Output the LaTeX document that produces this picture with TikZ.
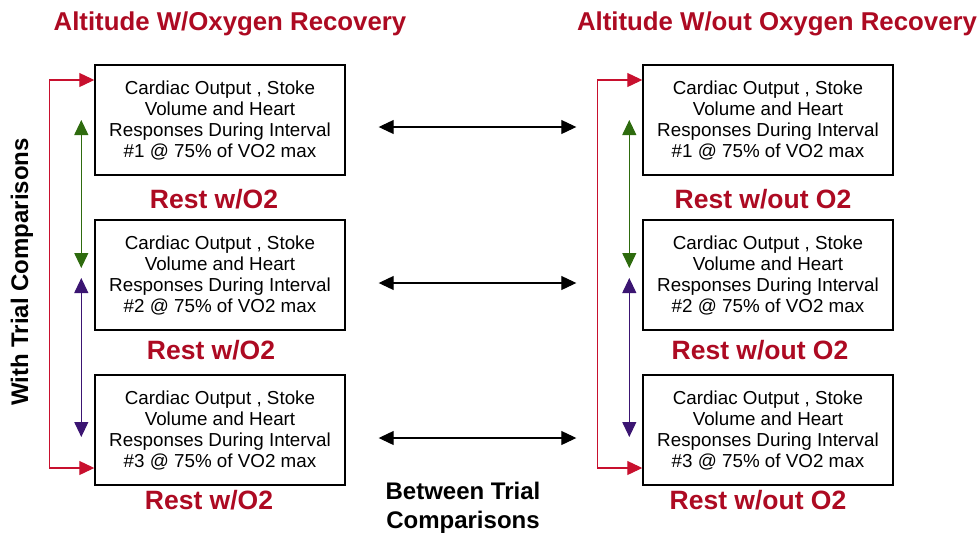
\documentclass[tikz,border=0pt]{standalone}
\usepackage{fontspec}
\setmainfont{Liberation Sans}
\usepackage{tikz}
\usetikzlibrary{arrows.meta, positioning, calc}
\usepackage{xcolor}
\definecolor{titlered}{HTML}{ad0a22}
\definecolor{bracketred}{HTML}{c8102e}
\definecolor{pairgreen}{HTML}{2e6b0e}
\definecolor{pairpurple}{HTML}{3b1572}
\tikzset{
  trialbox/.style={rectangle, draw=black, line width=1.4pt, fill=white,
                   minimum width=250pt, minimum height=110pt,
                   align=center, font=\fontsize{18.8}{21}\selectfont, inner sep=2pt},
  restlabel/.style={font=\fontsize{26.5}{30}\selectfont\bfseries, text=titlered},
  titlelabel/.style={font=\fontsize{25.8}{30}\selectfont\bfseries, text=titlered},
  sidelabel/.style={font=\fontsize{24}{29}\selectfont\bfseries, align=center},
  betweenlink/.style={{Triangle[length=15pt,width=14pt]}-{Triangle[length=15pt,width=14pt]}, line width=1.1pt, draw=black},
  redlink/.style={{Triangle[length=15pt,width=14pt]}-{Triangle[length=15pt,width=14pt]}, line width=1.1pt, draw=bracketred},
  greenlink/.style={{Triangle[length=15pt,width=14pt]}-{Triangle[length=15pt,width=14pt]}, line width=1.1pt, draw=pairgreen},
  purplelink/.style={{Triangle[length=15pt,width=14pt]}-{Triangle[length=15pt,width=14pt]}, line width=1.1pt, draw=pairpurple},
}
\newcommand{\trialtext}[1]{Cardiac Output , Stoke\\Volume and Heart\\Responses During Interval\\\##1 @ 75\% of VO2 max}

\begin{document}
\begin{tikzpicture}[x=1pt, y=-1pt]
  \useasboundingbox (0,0) rectangle (980,533);

  % titles
  \node[titlelabel] (ttlwith) at (230,24) {Altitude W/Oxygen Recovery};
  \node[titlelabel] (ttlwithout) at (777,24) {Altitude W/out Oxygen Recovery};

  % with oxygen trials
  \node[trialbox] (w1) at (220,120) {\trialtext{1}};
  \node[trialbox] (w2) at (220,275) {\trialtext{2}};
  \node[trialbox] (w3) at (220,430) {\trialtext{3}};
  \node[restlabel] (wr1) at (214,199) {Rest w/O2};
  \node[restlabel] (wr2) at (211,350) {Rest w/O2};
  \node[restlabel] (wr3) at (209,500) {Rest w/O2};

  % without oxygen trials
  \node[trialbox] (n1) at (768,120) {\trialtext{1}};
  \node[trialbox] (n2) at (768,275) {\trialtext{2}};
  \node[trialbox] (n3) at (768,430) {\trialtext{3}};
  \node[restlabel] (nr1) at (763,199) {Rest w/out O2};
  \node[restlabel] (nr2) at (760,350) {Rest w/out O2};
  \node[restlabel] (nr3) at (758,500) {Rest w/out O2};

  % between trial arrows
  \draw[betweenlink] ([xshift=33pt,yshift=-7pt]w1.east) -- ([xshift=-66pt,yshift=-7pt]n1.west);
  \draw[betweenlink] ([xshift=33pt,yshift=-8pt]w2.east) -- ([xshift=-66pt,yshift=-8pt]n2.west);
  \draw[betweenlink] ([xshift=33pt,yshift=-8pt]w3.east) -- ([xshift=-66pt,yshift=-8pt]n3.west);

  % within trial arrows, left
  \draw[redlink] ([yshift=40pt]w1.west) -- ++(-45,0) |- ([yshift=-38pt]w3.west);
  \draw[greenlink] ([xshift=-13pt]w1.west) -- ([xshift=-13pt,yshift=7pt]w2.west);
  \draw[purplelink] ([xshift=-13pt,yshift=-3pt]w2.west) -- ([xshift=-13pt,yshift=-7pt]w3.west);

  % within trial arrows, right
  \draw[redlink] ([yshift=40pt]n1.west) -- ++(-45,0) |- ([yshift=-38pt]n3.west);
  \draw[greenlink] ([xshift=-13pt]n1.west) -- ([xshift=-13pt,yshift=7pt]n2.west);
  \draw[purplelink] ([xshift=-13pt,yshift=-3pt]n2.west) -- ([xshift=-13pt,yshift=-7pt]n3.west);

  % axis labels
  \node[sidelabel, rotate=90] (withlbl) at (22,272) {With Trial Comparisons};
  \node[sidelabel] (betweenlbl) at (463,508) {Between Trial\\Comparisons};
\end{tikzpicture}
\end{document}
